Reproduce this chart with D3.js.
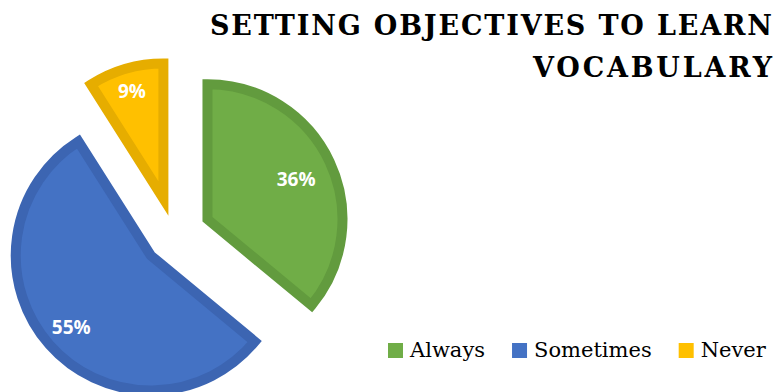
<!DOCTYPE html>
<html>
<head>
<meta charset="utf-8">
<style>
body { margin: 0; background: #fff; }
svg { display: block; }
.title { font-family: "DejaVu Serif", "Liberation Serif", serif; font-weight: bold; font-size: 27px; fill: #000; }
.legend text { font-family: "DejaVu Serif", "Liberation Serif", serif; font-size: 21px; fill: #000; }
.label { font-family: "Open Sans", sans-serif; font-weight: 700; font-size: 19px; fill: #fff; }
</style>
</head>
<body>
<script src="https://cdnjs.cloudflare.com/ajax/libs/d3/7.8.5/d3.min.js"></script>
<script>

// values
var categories = ['Always', 'Sometimes', 'Never'];
var values = [36, 55, 9];
var titleLines = ['SETTING OBJECTIVES TO LEARN', 'VOCABULARY'];

var width = 777,
    height = 392;

var fills   = ['#70ad47', '#4472c4', '#ffc000'],
    strokes = ['#629b3e', '#3c65b2', '#e6ad00'];

// how far each slice is pulled out of the pie, and where its label sits (px)
var explode = [37, 31, 38],
    labelR  = [98, 106, 113];

var radius = 135,
    cx = 174,
    cy = 235;

var svg = d3.select('body').append('svg')
    .attr('width', width)
    .attr('height', height);

var pie = d3.pie().sort(null).value(function(d) { return d; });
var arcs = pie(values);

var arc = d3.arc().innerRadius(0).outerRadius(radius);

var slices = svg.append('g')
    .attr('transform', 'translate(' + cx + ',' + cy + ')')
  .selectAll('g')
    .data(arcs)
  .enter().append('g')
    .attr('transform', function(d, i) {
      var mid = (d.startAngle + d.endAngle) / 2;
      return 'translate(' + (Math.sin(mid) * explode[i]) + ',' + (-Math.cos(mid) * explode[i]) + ')';
    });

slices.append('path')
    .attr('d', arc)
    .attr('fill', function(d, i) { return fills[i]; })
    .attr('stroke', function(d, i) { return strokes[i]; })
    .attr('stroke-width', 10)
    .attr('stroke-linejoin', 'miter');

slices.append('text')
    .attr('class', 'label')
    .attr('transform', function(d, i) {
      var c = d3.arc().innerRadius(labelR[i]).outerRadius(labelR[i]).centroid(d);
      return 'translate(' + c + ')';
    })
    .attr('text-anchor', 'middle')
    .attr('dy', '0.42em')
    .text(function(d) { return d.data + '%'; });

// title, right aligned in two lines
var titleX = [210, 533],
    titleW = [562, 239];
svg.selectAll('.title')
    .data(titleLines)
  .enter().append('text')
    .attr('class', 'title')
    .attr('x', function(d, i) { return titleX[i]; })
    .attr('y', function(d, i) { return 35 + i * 42; })
    .attr('textLength', function(d, i) { return titleW[i]; })
    .attr('lengthAdjust', 'spacing')
    .text(function(d) { return d; });

// legend
var legend = svg.append('g').attr('class', 'legend');
var lx = 388;
categories.forEach(function(c, i) {
  legend.append('rect')
      .attr('x', lx).attr('y', 343)
      .attr('width', 15).attr('height', 15)
      .attr('fill', fills[i]);
  var t = legend.append('text')
      .attr('x', lx + 22).attr('y', 357)
      .text(c);
  lx += 22 + t.node().getComputedTextLength() + 27;
});

</script>
</body>
</html>
